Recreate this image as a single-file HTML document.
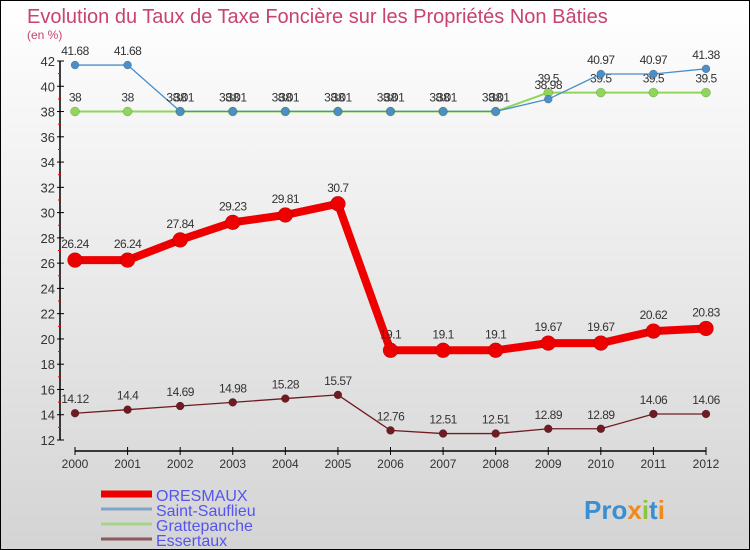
<!DOCTYPE html>
<html><head><meta charset="utf-8"><style>
html,body{margin:0;padding:0}
body{width:750px;height:550px;overflow:hidden;font-family:"Liberation Sans","DejaVu Sans",sans-serif}
#wrap{position:relative;width:748px;height:548px;border:1px solid #000;background:linear-gradient(#ffffff,#d4d4d4)}
</style></head><body>
<div id="wrap">
<svg id="chart" width="748" height="548" style="position:absolute;left:0;top:0">
<text x="26" y="22" font-size="20" fill="#c8436e">Evolution du Taux de Taxe Foncière sur les Propriétés Non Bâties</text>
<text x="26" y="38" font-size="12" fill="#c8436e">(en %)</text>
</svg>
</div>
<script>
const years=[2000,2001,2002,2003,2004,2005,2006,2007,2008,2009,2010,2011,2012];
const yTicks=[12,14,16,18,20,22,24,26,28,30,32,34,36,38,40,42];
const oresmaux=[26.24,26.24,27.84,29.23,29.81,30.7,19.1,19.1,19.1,19.67,19.67,20.62,20.83];
const saintSauflieu=[41.68,41.68,38.01,38.01,38.01,38.01,38.01,38.01,38.01,38.98,40.97,40.97,41.38];
const grattepanche=[38,38,38,38,38,38,38,38,38,39.5,39.5,39.5,39.5];
const essertaux=[14.12,14.4,14.69,14.98,15.28,15.57,12.76,12.51,12.51,12.89,12.89,14.06,14.06];
const seriesNames=["ORESMAUX","Saint-Sauflieu","Grattepanche","Essertaux"];

const svg=document.getElementById('chart');
const NS='http://www.w3.org/2000/svg';
const x0=74,x1=705,yMin=12,yMax=42,yTop=60,yBot=439;
const xs=i=>x0+(x1-x0)*i/(years.length-1);
const ys=v=>yBot-(v-yMin)/(yMax-yMin)*(yBot-yTop);
function mk(tag,attrs,parent){const e=document.createElementNS(NS,tag);for(const k in attrs)e.setAttribute(k,attrs[k]);(parent||svg).appendChild(e);return e;}

// y axis
const ya=mk('g',{});


mk('line',{x1:59,y1:yTop,x2:59,y2:yBot,stroke:'#000','stroke-width':1.5},ya);
yTicks.forEach((t,i)=>{
  const y=ys(t);
  mk('line',{x1:56,y1:y,x2:63,y2:y,stroke:'#000'},ya);
  if(i<yTicks.length-1){const m=ys(t+1);mk('line',{x1:57,y1:m,x2:60,y2:m,stroke:'#e00'},ya);}
  const tx=mk('text',{x:54,y:y+5,'font-size':13,fill:'#333','text-anchor':'end'},ya);
  
  
  tx.textContent=t;
});
// x axis
const xa=mk('g',{});


mk('line',{x1:x0,y1:450,x2:x1,y2:450,stroke:'#000','stroke-width':1.5},xa);
years.forEach((yr,i)=>{
  const x=xs(i);
  mk('line',{x1:x,y1:446,x2:x,y2:454,stroke:'#000'},xa);
  const tx=mk('text',{x:x,y:467,'font-size':12,fill:'#333','text-anchor':'middle'},xa);
  
  
  tx.textContent=yr;
});

function drawSeries(vals,name,color,w,r,labelDy){
  const g=mk('g',{});
  
  
  mk('polyline',{points:vals.map((v,i)=>xs(i)+','+ys(v)).join(' '),fill:'none',stroke:color,'stroke-width':w,'stroke-linejoin':'round'},g);
  vals.forEach((v,i)=>{
    const c=mk('circle',{cx:xs(i),cy:ys(v),r:r,fill:color,stroke:'rgba(0,0,0,0.3)','stroke-width':0.5},g);
    
    
    const t=mk('text',{x:xs(i),y:ys(v)+labelDy,'font-size':12,fill:'#333','text-anchor':'middle','letter-spacing':'-0.5'},g);
    
    
    t.textContent=v;
  });
}
drawSeries(grattepanche,'grattepanche','#8fd65a',2,4.5,-10);
drawSeries(saintSauflieu,'saint-sauflieu','#4a8fc8',1.3,4,-10);
drawSeries(essertaux,'essertaux','#6e1c22',1.3,4,-10);
drawSeries(oresmaux,'oresmaux','#ee0000',8,7.5,-12);

// legend
const colors=['#ee0000','#7fa6c6','#a6d48a','#8a5a5c'];
const widths=[7,3,3,3];
const lg=mk('g',{});


seriesNames.forEach((n,i)=>{
  const y=493+i*15;
  const e=mk('g',{},lg);
  
  
  mk('line',{x1:100,y1:y,x2:151,y2:y,stroke:colors[i],'stroke-width':widths[i]},e);
  const t=mk('text',{x:155,y:y+7,'font-size':16,fill:'#5555ee'},e);
  t.textContent=n;
});
// logo
const logo=mk('text',{x:583,y:518,'font-size':26,'font-weight':'bold',fill:'#3a8fd0'});


logo.innerHTML='<tspan fill="#3a8fd0">Pro</tspan><tspan fill="#f08a1a">x</tspan><tspan fill="#8cc63f">i</tspan><tspan fill="#3a8fd0">t</tspan><tspan fill="#f08a1a">i</tspan>';
</script>
</body></html>
